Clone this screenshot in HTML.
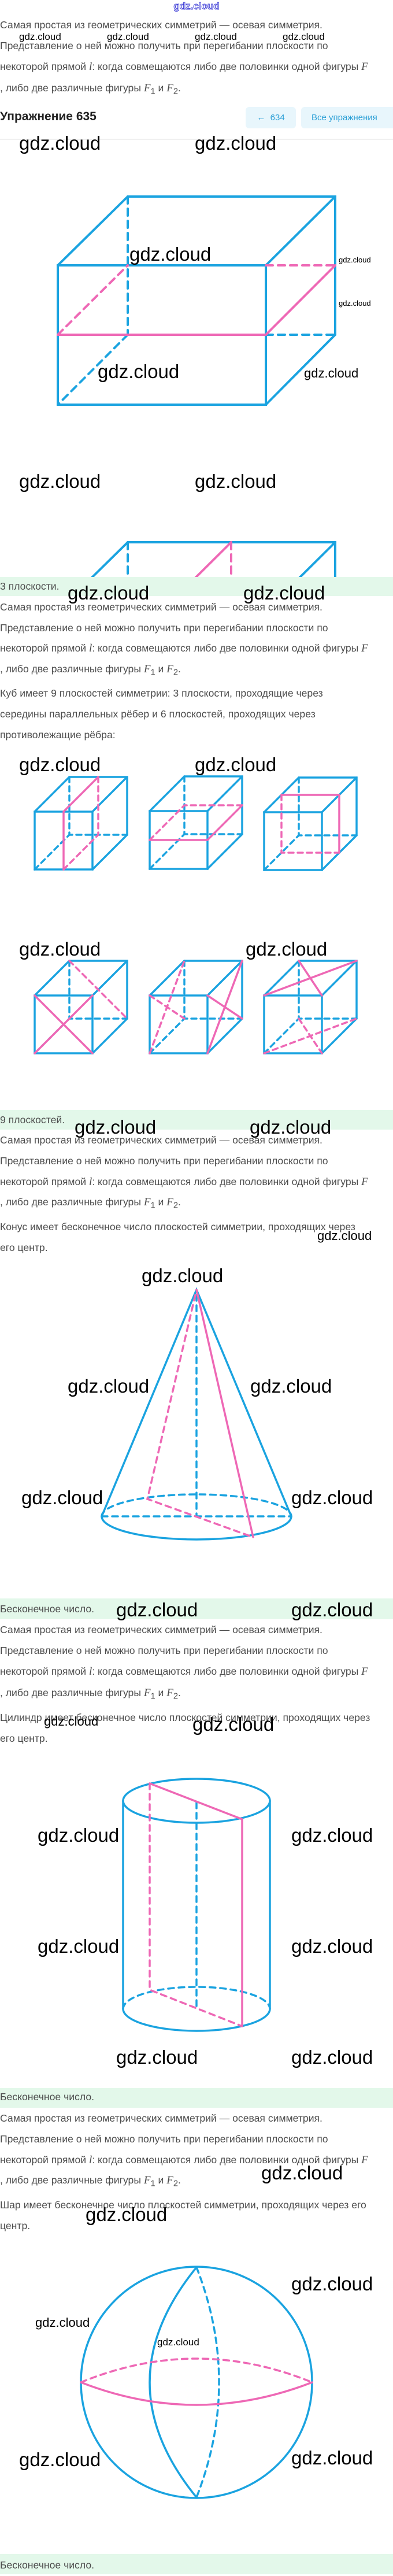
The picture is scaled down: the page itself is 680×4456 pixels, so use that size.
<!DOCTYPE html>
<html><head><meta charset="utf-8">
<style>
html,body{margin:0;padding:0;background:#fff}
body{width:680px;height:4453px;position:relative;overflow:hidden;font-family:"Liberation Sans",sans-serif}
.t{position:absolute;left:0;color:#4d4d4d;font-size:17.6px;white-space:nowrap}
.m{font-family:"Liberation Serif",serif;font-style:italic;font-size:19px}
.band{position:absolute;left:0;width:680px;background:#e3f8ea;color:#4d4d4d;font-size:17.6px;white-space:nowrap}
.w{position:absolute;color:#000;white-space:nowrap;font-family:"Liberation Sans",sans-serif}
.w33{font-size:33px;line-height:40px}
.w22{font-size:22px;line-height:26px}
.w17{font-size:17px;line-height:20px}
.w13{font-size:13px;line-height:16px}
svg{position:absolute;left:0;top:0}
</style></head><body>
<svg width="680" height="4453" viewBox="0 0 680 4453">
<defs>
<g id="cube" fill="none" stroke="#1aa3e0" stroke-width="3.5" stroke-linecap="round">
<rect x="0" y="60" width="100" height="100"/>
<path d="M60 0H160V100M0 60L60 0M100 60L160 0M100 160L160 100"/>
<path d="M60 0V100H160M0 160L60 100" stroke-dasharray="9 7"/>
</g>
<clipPath id="c2"><rect x="0" y="900" width="680" height="98"/></clipPath>
</defs>
<g fill="none" stroke-width="4" stroke-linecap="round">
<path d="M100 459H460V700H100ZM221 340H580V579M100 459L221 340M460 459L580 340M460 700L580 579" stroke="#1aa3e0"/>
<path d="M221 340V579M221 579L100 700M460 579H580" stroke="#1aa3e0" stroke-dasharray="12 9"/>
<path d="M100 579H460L580 459" stroke="#ee68b5"/>
<path d="M100 579L221 459M460 459H580" stroke="#ee68b5" stroke-dasharray="12 9"/>
</g>
<g fill="none" stroke-width="4" stroke-linecap="round" clip-path="url(#c2)">
<path d="M221 938H580V1100M221 938L100 1057M580 938L460 1057" stroke="#1aa3e0"/>
<path d="M221 938V1100" stroke="#1aa3e0" stroke-dasharray="12 9"/>
<path d="M400 938L280 1057" stroke="#ee68b5"/>
<path d="M400 938V1100" stroke="#ee68b5" stroke-dasharray="12 9"/>
</g>
<g fill="none" stroke="#ee68b5" stroke-width="3.5" stroke-linecap="round">
<g transform="translate(60 1344)"><use href="#cube"/><path d="M50 60V160M50 60L110 0"/><path d="M110 0V100M50 160L110 100" stroke-dasharray="9 7"/></g>
<g transform="translate(259 1343)"><use href="#cube"/><path d="M0 110H100L160 50"/><path d="M0 110L60 50H160" stroke-dasharray="9 7"/></g>
<g transform="translate(457 1345)"><use href="#cube"/><path d="M30 30H130V130"/><path d="M30 30V130H130" stroke-dasharray="9 7"/></g>
<g transform="translate(60 1662)"><use href="#cube"/><path d="M0 60L100 160M100 60L0 160"/><path d="M60 0L160 100" stroke-dasharray="9 7"/></g>
<g transform="translate(259 1662)"><use href="#cube"/><path d="M100 60L160 100M100 160L160 0"/><path d="M0 60L60 100M0 160L60 0" stroke-dasharray="9 7"/></g>
<g transform="translate(457 1662)"><use href="#cube"/><path d="M0 60L160 0M60 0L100 60"/><path d="M0 160L160 100M60 100L100 160" stroke-dasharray="9 7"/></g>
</g>
<g fill="none" stroke-width="3.5" stroke-linecap="round">
<path d="M176 2623L340 2231L504 2623M176 2623A164 40 0 0 0 504 2623" stroke="#1aa3e0"/>
<path d="M176 2623A164 38 0 0 1 504 2623M176 2623H504M340 2240V2623" stroke="#1aa3e0" stroke-dasharray="10 8"/>
<path d="M340 2231L438 2659" stroke="#ee68b5"/>
<path d="M338 2240L255 2593L438 2659" stroke="#ee68b5" stroke-dasharray="10 8"/>
</g>
<g fill="none" stroke-width="3.5" stroke-linecap="round">
<ellipse cx="340" cy="3115" rx="127" ry="38" stroke="#1aa3e0"/>
<path d="M213 3115V3475M467 3115V3475M213 3475A127 38 0 0 0 467 3475" stroke="#1aa3e0"/>
<path d="M213 3475A127 38 0 0 1 467 3475M340 3118V3474" stroke="#1aa3e0" stroke-dasharray="10 8"/>
<path d="M259 3085L419 3147V3505" stroke="#ee68b5"/>
<path d="M259 3085V3442L419 3505" stroke="#ee68b5" stroke-dasharray="10 8"/>
</g>
<g fill="none" stroke-width="3.5" stroke-linecap="round">
<circle cx="340" cy="4121" r="200" stroke="#1aa3e0"/>
<path d="M340 3922Q178 4121 340 4320" stroke="#1aa3e0"/>
<path d="M340 3922Q418 4121 340 4320" stroke="#1aa3e0" stroke-dasharray="10 8"/>
<path d="M140 4121Q340 4199 540 4121" stroke="#ee68b5"/>
<path d="M140 4121Q340 4039 540 4121" stroke="#ee68b5" stroke-dasharray="10 8"/>
</g>
</svg>

<div style="position:absolute;left:0;top:0;width:680px;text-align:center;font-size:17px;line-height:22px;color:#fff;-webkit-text-stroke:1px #3b3bd6;font-weight:bold">gdz.cloud</div>

<div class="t" style="top:25px;line-height:36px">Самая простая из геометрических симметрий — осевая симметрия.<br>Представление о ней можно получить при перегибании плоскости по<br>некоторой прямой <span class="m">l</span>: когда совмещаются либо две половинки одной фигуры <span class="m">F</span><br>, либо две различные фигуры <span class="m">F</span><sub>1</sub> и <span class="m">F</span><sub>2</sub>.</div>
<div class="w w17" style="left:33px;top:54px">gdz.cloud</div>
<div class="w w17" style="left:185px;top:54px">gdz.cloud</div>
<div class="w w17" style="left:337px;top:54px">gdz.cloud</div>
<div class="w w17" style="left:489px;top:54px">gdz.cloud</div>

<div style="position:absolute;left:0;top:190px;font-size:21px;font-weight:bold;color:#222">Упражнение 635</div>
<div style="position:absolute;left:425px;top:185px;width:87px;height:37px;background:#e8f6fc;border-radius:6px;color:#2a9fd6;font-size:15px;line-height:37px;text-align:center">←&nbsp;&nbsp;634</div>
<div style="position:absolute;left:521px;top:185px;width:170px;height:37px;background:#e8f6fc;border-radius:6px;color:#2a9fd6;font-size:15px;line-height:37px;padding-left:18px;box-sizing:border-box">Все упражнения</div>
<div style="position:absolute;left:0;top:240px;width:680px;height:2px;background:#f0f0f0"></div>

<div class="w w33" style="left:33px;top:228px">gdz.cloud</div>
<div class="w w33" style="left:337px;top:228px">gdz.cloud</div>
<div class="w w33" style="left:224px;top:420px">gdz.cloud</div>
<div class="w w13" style="left:586px;top:442px">gdz.cloud</div>
<div class="w w13" style="left:586px;top:517px">gdz.cloud</div>
<div class="w w33" style="left:169px;top:623px">gdz.cloud</div>
<div class="w w22" style="left:526px;top:633px">gdz.cloud</div>
<div class="w w33" style="left:33px;top:813px">gdz.cloud</div>
<div class="w w33" style="left:337px;top:813px">gdz.cloud</div>

<div class="band" style="top:998px;height:33px;line-height:33px">3 плоскости.</div>
<div class="w w33" style="left:117px;top:1006px">gdz.cloud</div>
<div class="w w33" style="left:421px;top:1006px">gdz.cloud</div>
<div class="t" style="top:1033px;line-height:35.7px">Самая простая из геометрических симметрий — осевая симметрия.<br>Представление о ней можно получить при перегибании плоскости по<br>некоторой прямой <span class="m">l</span>: когда совмещаются либо две половинки одной фигуры <span class="m">F</span><br>, либо две различные фигуры <span class="m">F</span><sub>1</sub> и <span class="m">F</span><sub>2</sub>.<br>Куб имеет 9 плоскостей симметрии: 3 плоскости, проходящие через<br>середины параллельных рёбер и 6 плоскостей, проходящих через<br>противолежащие рёбра:</div>
<div class="w w33" style="left:33px;top:1303px">gdz.cloud</div>
<div class="w w33" style="left:337px;top:1303px">gdz.cloud</div>
<div class="w w33" style="left:33px;top:1622px">gdz.cloud</div>
<div class="w w33" style="left:425px;top:1622px">gdz.cloud</div>

<div class="band" style="top:1920px;height:34px;line-height:34px">9 плоскостей.</div>
<div class="w w33" style="left:129px;top:1930px">gdz.cloud</div>
<div class="w w33" style="left:432px;top:1930px">gdz.cloud</div>
<div class="t" style="top:1955px;line-height:35.8px">Самая простая из геометрических симметрий — осевая симметрия.<br>Представление о ней можно получить при перегибании плоскости по<br>некоторой прямой <span class="m">l</span>: когда совмещаются либо две половинки одной фигуры <span class="m">F</span><br>, либо две различные фигуры <span class="m">F</span><sub>1</sub> и <span class="m">F</span><sub>2</sub>.<br>Конус имеет бесконечное число плоскостей симметрии, проходящих через<br>его центр.</div>
<div class="w w22" style="left:549px;top:2125px">gdz.cloud</div>
<div class="w w33" style="left:245px;top:2187px">gdz.cloud</div>
<div class="w w33" style="left:117px;top:2378px">gdz.cloud</div>
<div class="w w33" style="left:433px;top:2378px">gdz.cloud</div>
<div class="w w33" style="left:37px;top:2571px">gdz.cloud</div>
<div class="w w33" style="left:504px;top:2571px">gdz.cloud</div>

<div class="band" style="top:2765px;height:36px;line-height:36px">Бесконечное число.</div>
<div class="w w33" style="left:201px;top:2765px">gdz.cloud</div>
<div class="w w33" style="left:504px;top:2765px">gdz.cloud</div>
<div class="t" style="top:2801px;line-height:36px">Самая простая из геометрических симметрий — осевая симметрия.<br>Представление о ней можно получить при перегибании плоскости по<br>некоторой прямой <span class="m">l</span>: когда совмещаются либо две половинки одной фигуры <span class="m">F</span><br>, либо две различные фигуры <span class="m">F</span><sub>1</sub> и <span class="m">F</span><sub>2</sub>.<br>Цилиндр имеет бесконечное число плоскостей симметрии, проходящих через<br>его центр.</div>
<div class="w w22" style="left:76px;top:2965px">gdz.cloud</div>
<div class="w w33" style="left:333px;top:2963px">gdz.cloud</div>
<div class="w w33" style="left:65px;top:3155px">gdz.cloud</div>
<div class="w w33" style="left:504px;top:3155px">gdz.cloud</div>
<div class="w w33" style="left:65px;top:3347px">gdz.cloud</div>
<div class="w w33" style="left:504px;top:3347px">gdz.cloud</div>
<div class="w w33" style="left:201px;top:3539px">gdz.cloud</div>
<div class="w w33" style="left:504px;top:3539px">gdz.cloud</div>

<div class="band" style="top:3612px;height:34px;line-height:30px">Бесконечное число.</div>
<div class="t" style="top:3647px;line-height:35.8px">Самая простая из геометрических симметрий — осевая симметрия.<br>Представление о ней можно получить при перегибании плоскости по<br>некоторой прямой <span class="m">l</span>: когда совмещаются либо две половинки одной фигуры <span class="m">F</span><br>, либо две различные фигуры <span class="m">F</span><sub>1</sub> и <span class="m">F</span><sub>2</sub>.<br>Шар имеет бесконечное число плоскостей симметрии, проходящих через его<br>центр.</div>
<div class="w w33" style="left:452px;top:3739px">gdz.cloud</div>
<div class="w w33" style="left:148px;top:3811px">gdz.cloud</div>
<div class="w w33" style="left:504px;top:3931px">gdz.cloud</div>
<div class="w w22" style="left:61px;top:4005px">gdz.cloud</div>
<div class="w w17" style="left:272px;top:4042px">gdz.cloud</div>
<div class="w w33" style="left:33px;top:4235px">gdz.cloud</div>
<div class="w w33" style="left:504px;top:4232px">gdz.cloud</div>

<div class="band" style="top:4418px;height:35px;line-height:38px">Бесконечное число.</div>
</body></html>
